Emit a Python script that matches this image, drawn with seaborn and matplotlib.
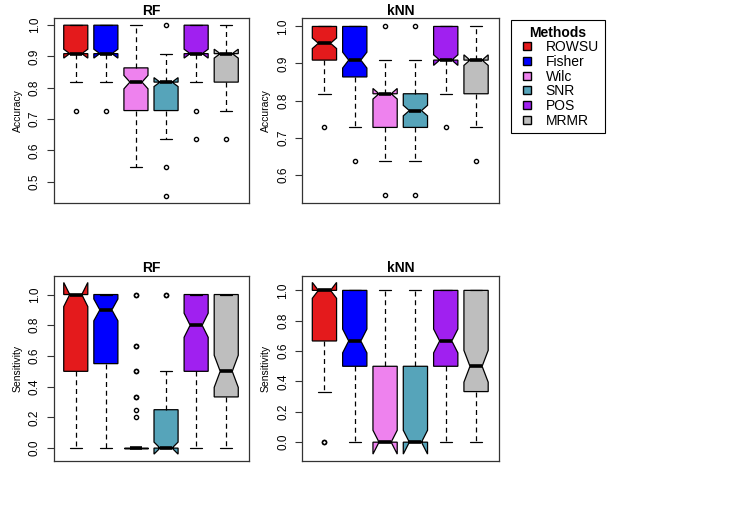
import numpy as np
import pandas as pd
import matplotlib
matplotlib.use("Agg")
import matplotlib.pyplot as plt
from matplotlib.lines import Line2D
import seaborn as sns

sns.set_theme(style="ticks")
plt.rcParams['font.family'] = ['Liberation Sans', 'DejaVu Sans']
plt.rcParams['text.color'] = 'black'
plt.rcParams['axes.labelcolor'] = 'black'
plt.rcParams['ytick.color'] = 'black'

methods = ["ROWSU", "Fisher", "Wilc", "SNR", "POS", "MRMR"]
colors = ["#E41A1C", "#0000FF", "#EE82EE", "#56A4BA", "#A020F0", "#BEBEBE"]

# accuracy takes values k/11, sensitivity a handful of fractions
acc_levels = [0.4545, 0.5455, 0.6364, 0.7273, 0.8182, 0.9091, 1.0]
sens_levels = [0.0, 0.2, 0.25, 0.3333, 0.5, 0.6, 0.6667, 0.8, 0.9, 1.0]

# how many runs ended on each level, one row per method
acc_rf = [
    [0, 0, 0, 1, 8, 50, 41],
    [0, 0, 0, 1, 9, 48, 42],
    [0, 3, 10, 25, 36, 20, 5],
    [1, 1, 8, 30, 45, 14, 1],
    [0, 0, 1, 1, 8, 49, 41],
    [0, 0, 1, 6, 30, 48, 15],
]
acc_knn = [
    [0, 0, 0, 1, 9, 40, 50],
    [0, 0, 1, 4, 20, 30, 44],
    [0, 1, 9, 30, 45, 14, 1],
    [0, 1, 8, 41, 35, 14, 1],
    [0, 0, 0, 1, 7, 52, 40],
    [0, 0, 1, 7, 30, 47, 15],
]
sens_rf = [
    [5, 0, 0, 5, 20, 0, 10, 5, 0, 55],
    [5, 0, 0, 5, 15, 5, 5, 10, 10, 44],
    [90, 1, 1, 2, 2, 0, 2, 0, 0, 2],
    [55, 10, 20, 5, 8, 0, 0, 0, 0, 2],
    [5, 0, 0, 5, 20, 0, 10, 20, 0, 40],
    [10, 0, 0, 20, 25, 0, 10, 5, 0, 30],
]
sens_knn = [
    [2, 0, 0, 5, 8, 0, 15, 5, 0, 65],
    [5, 0, 0, 5, 30, 0, 20, 5, 0, 35],
    [55, 0, 0, 5, 25, 0, 5, 0, 0, 10],
    [52, 0, 0, 8, 25, 0, 5, 0, 0, 10],
    [4, 0, 0, 6, 30, 0, 18, 7, 0, 35],
    [8, 0, 0, 22, 25, 0, 10, 5, 0, 30],
]

acc_ticks = [0.5, 0.6, 0.7, 0.8, 0.9, 1.0]
sens_ticks = [0.0, 0.2, 0.4, 0.6, 0.8, 1.0]


def long_table(levels, counts):
    rows = []
    for m, c in zip(methods, counts):
        for v in np.repeat(levels, c):
            rows.append((m, v))
    return pd.DataFrame(rows, columns=["Method", "value"])


W, H = 747, 515
fig = plt.figure(figsize=(W / 100, H / 100), dpi=100)

# (title, ylabel, levels, counts, ylim, ticks, box in pixels x0, y0, x1, y1)
panels = [
    ("RF", "Accuracy", acc_levels, acc_rf, (0.433, 1.022), acc_ticks, (53.5, 18.3, 248.5, 202.7)),
    ("kNN", "Accuracy", acc_levels, acc_knn, (0.524, 1.022), acc_ticks[1:], (302, 18.3, 498.5, 202.7)),
    ("RF", "Sensitivity", sens_levels, sens_rf, (-0.084, 1.124), sens_ticks, (53.5, 275.5, 248.5, 461)),
    ("kNN", "Sensitivity", sens_levels, sens_knn, (-0.124, 1.098), sens_ticks, (302, 275.5, 498.5, 461)),
]

pal = dict(zip(methods, colors))
for title, ylab, levels, counts, ylim, ticks, (x0, y0, x1, y1) in panels:
    ax = fig.add_axes([x0 / W, 1 - y1 / H, (x1 - x0) / W, (y1 - y0) / H])
    df = long_table(levels, counts)
    sns.boxplot(data=df, x="Method", y="value", hue="Method", order=methods,
                hue_order=methods, palette=pal, saturation=1, notch=True,
                width=0.8, linecolor="black", linewidth=0.9, fliersize=3,
                legend=False, ax=ax,
                whiskerprops=dict(linestyle=(0, (4, 3))),
                medianprops=dict(linewidth=2.6, solid_capstyle="butt"),
                flierprops=dict(marker="o", markerfacecolor="none",
                                markeredgecolor="black", markeredgewidth=1.0))
    ax.set_xlim(-0.74, 5.74)
    ax.set_ylim(*ylim)
    ax.set_xticks([])
    ax.set_xlabel("")
    ax.set_yticks(ticks)
    ax.set_yticklabels([f"{t:.1f}" for t in ticks], rotation=90, va="center", fontsize=8.5)
    ax.tick_params(axis="y", length=5, width=0.8, pad=4, color="#333333")
    ax.set_ylabel(ylab, fontsize=7.5)
    ax.yaxis.set_label_coords(-31 / (x1 - x0), 0.5)
    ax.set_title(title, fontweight="bold", fontsize=10, pad=2.4)
    for s in ax.spines.values():
        s.set_color("#333333")
        s.set_linewidth(0.9)

handles = [Line2D([], [], linestyle="none", marker="s", markersize=5.5,
                  markerfacecolor=c, markeredgecolor="black", markeredgewidth=1.0)
           for c in colors]
leg = fig.legend(handles, methods, title="Methods", loc="upper left",
                 bbox_to_anchor=(511 / W, 1 - 20 / H), frameon=True, fancybox=False,
                 edgecolor="black", framealpha=1, fontsize=10,
                 title_fontproperties={"weight": "bold", "size": 10},
                 borderpad=0.4, labelspacing=0.05, handlelength=1.5,
                 handletextpad=0.6, borderaxespad=0)
leg.get_frame().set_linewidth(0.8)

fig.savefig("out.png", dpi=100)
